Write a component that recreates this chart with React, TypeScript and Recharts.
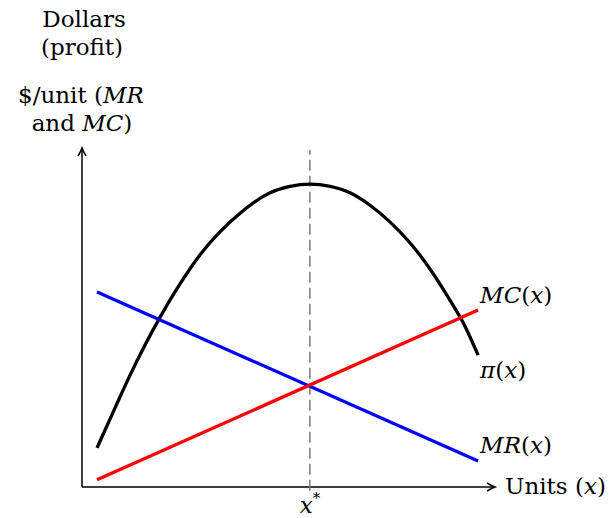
import { ComposedChart, Line, XAxis, YAxis, ReferenceLine, ReferenceDot, LabelList } from "recharts";

// units along the horizontal axis
const profitX = [0.4, 0.88, 1.28, 2.08, 2.61, 3.14, 4.21, 5.01, 5.54, 6.07, 6.61, 7.14, 7.67, 8.2, 9.0, 9.8, 10.2, 10.55];
const profitY = [1.04, 2.1, 2.97, 4.51, 5.39, 6.16, 7.27, 7.81, 7.98, 8.04, 7.98, 7.81, 7.48, 7.04, 6.16, 4.96, 4.27, 3.5];
const mrX = [0.4, 10.55];
const mrY = [5.18, 0.69];
const mcX = [0.4, 10.55];
const mcY = [0.19, 4.7];
const xStar = 6.07;
const xMax = 11;
const yMax = 9;

const zip = (xs: number[], ys: number[]) => xs.map((x, i) => ({ x, y: ys[i] }));
const profitData = zip(profitX, profitY);
const mrData = zip(mrX, mrY);
const mcData = zip(mcX, mcY);

const FONT = "'DejaVu Serif', 'Liberation Serif', serif";
const FS = 23;

const endLabel = (count: number, dx: number, dy: number, body: React.ReactNode) => (props: any) => {
  if (props.index !== count - 1) return null;
  return (
    <text x={props.x + dx} y={props.y + dy} fontFamily={FONT} fontSize={FS} fill="#000">
      {body}
    </text>
  );
};

const ArrowUp = (props: any) => {
  const { cx, cy } = props;
  return (
    <path
      d={`M${cx - 4},${cy + 8} Q${cx - 1},${cy + 3} ${cx},${cy} Q${cx + 1},${cy + 3} ${cx + 4},${cy + 8}`}
      fill="none"
      stroke="#000"
      strokeWidth={1.5}
    />
  );
};

const ArrowRight = (props: any) => {
  const { cx, cy } = props;
  return (
    <path
      d={`M${cx - 8},${cy - 4} Q${cx - 3},${cy - 1} ${cx},${cy} Q${cx - 3},${cy + 1} ${cx - 8},${cy + 4}`}
      fill="none"
      stroke="#000"
      strokeWidth={1.5}
    />
  );
};

const StarLabel = (props: any) => {
  const { cx, cy } = props;
  return (
    <text x={cx} y={cy + 26} textAnchor="middle" fontFamily={FONT} fontSize={FS} fill="#000">
      <tspan fontStyle="italic">x</tspan>
      <tspan fontSize={15} dy={-10}>*</tspan>
    </text>
  );
};

export default function App() {
  return (
    <div style={{ position: "relative", width: 609, height: 518, background: "#fff" }}>
      <style>{"body{margin:0}"}</style>
      <svg width={609} height={518} style={{ position: "absolute", left: 0, top: 0 }}>
        <g fontFamily={FONT} fontSize={FS} fill="#000" textAnchor="middle">
          <text x={84} y={27}>Dollars</text>
          <text x={82} y={55}>(profit)</text>
          <text x={81} y={103}>
            $/unit (<tspan fontStyle="italic">MR</tspan>
          </text>
          <text x={82} y={131}>
            and <tspan fontStyle="italic">MC</tspan>)
          </text>
          <text x={505} y={494} textAnchor="start">
            Units (<tspan fontStyle="italic">x</tspan>)
          </text>
        </g>
      </svg>
      <div style={{ position: "absolute", left: 0, top: 0 }}>
        <ComposedChart width={609} height={518} margin={{ top: 148, right: 114, bottom: 31, left: 82 }}>
          <XAxis type="number" dataKey="x" domain={[0, xMax]} hide allowDataOverflow />
          <YAxis type="number" domain={[0, yMax]} hide allowDataOverflow />
          <ReferenceLine
            segment={[{ x: 0, y: 0 }, { x: xMax, y: 0 }]}
            stroke="#000"
            strokeWidth={1.5}
            ifOverflow="visible"
          />
          <ReferenceLine
            segment={[{ x: 0, y: 0 }, { x: 0, y: yMax }]}
            stroke="#000"
            strokeWidth={1.5}
            ifOverflow="visible"
          />
          <ReferenceLine
            segment={[{ x: xStar, y: -0.1 }, { x: xStar, y: 8.95 }]}
            stroke="#707070"
            strokeWidth={1.4}
            strokeDasharray="11 5"
            ifOverflow="visible"
          />
          <ReferenceDot x={0} y={yMax} r={0} shape={<ArrowUp />} ifOverflow="visible" />
          <ReferenceDot x={xMax} y={0} r={0} shape={<ArrowRight />} ifOverflow="visible" />
          <ReferenceDot x={xStar} y={0} r={0} shape={<StarLabel />} ifOverflow="visible" />
          <Line data={profitData} dataKey="y" type="monotone" stroke="#000" strokeWidth={3.3} dot={false} isAnimationActive={false}>
            <LabelList
              dataKey="y"
              content={endLabel(profitData.length, 2, 23, <><tspan fontStyle="italic">π</tspan>(<tspan fontStyle="italic">x</tspan>)</>)}
            />
          </Line>
          <Line data={mrData} dataKey="y" type="linear" stroke="#0000ff" strokeWidth={3.3} dot={false} isAnimationActive={false}>
            <LabelList
              dataKey="y"
              content={endLabel(mrData.length, 2, -8, <><tspan fontStyle="italic">MR</tspan>(<tspan fontStyle="italic">x</tspan>)</>)}
            />
          </Line>
          <Line data={mcData} dataKey="y" type="linear" stroke="#ff0000" strokeWidth={3.3} dot={false} isAnimationActive={false}>
            <LabelList
              dataKey="y"
              content={endLabel(mcData.length, 2, -7, <><tspan fontStyle="italic">MC</tspan>(<tspan fontStyle="italic">x</tspan>)</>)}
            />
          </Line>
        </ComposedChart>
      </div>
    </div>
  );
}
